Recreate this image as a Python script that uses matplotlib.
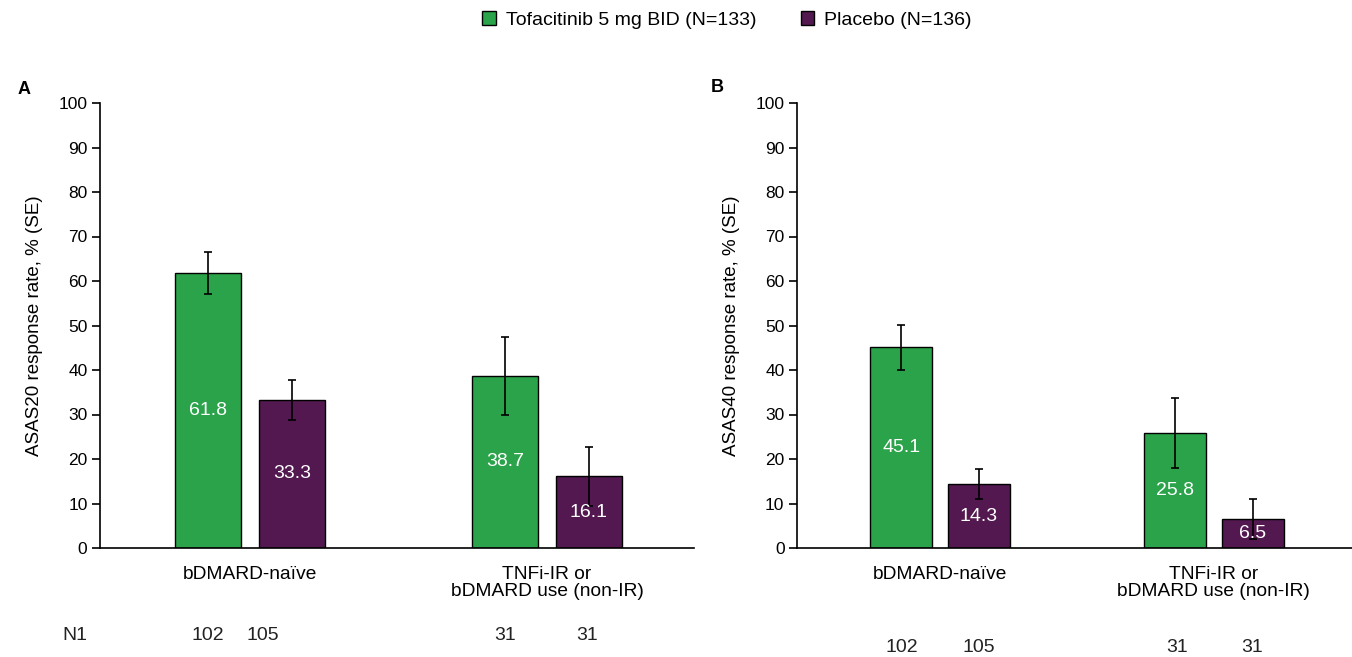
import numpy as np
import matplotlib.pyplot as plt

plt.rcParams['font.family'] = ['Liberation Sans', 'DejaVu Sans']

groups = ['bDMARD-naïve', 'TNFi-IR or\nbDMARD use (non-IR)']
series = ['Tofacitinib 5 mg BID (N=133)', 'Placebo (N=136)']

# ASAS20 (panel A) and ASAS40 (panel B) response rates, % and SE
asas20_tofa = [61.8, 38.7]
asas20_pbo = [33.3, 16.1]
asas20_tofa_se = [4.8, 8.8]
asas20_pbo_se = [4.5, 6.6]

asas40_tofa = [45.1, 25.8]
asas40_pbo = [14.3, 6.5]
asas40_tofa_se = [5.0, 7.9]
asas40_pbo_se = [3.4, 4.4]

n_labels = ['102', '105', '31', '31']

green = '#2ba34a'
purple = '#52184f'

W, H = 1352, 657
fig = plt.figure(figsize=(W / 100, H / 100), dpi=100)

def px(x0, x1, y0, y1):
    return [x0 / W, 1 - y1 / H, (x1 - x0) / W, (y1 - y0) / H]

axA = fig.add_axes(px(100, 694, 103, 548))
axB = fig.add_axes(px(797, 1352, 103, 548))

def draw(ax, tofa, pbo, tofa_se, pbo_se, ylabel, xlim, width, off):
    x = np.arange(len(groups))
    eb = dict(ecolor='black', elinewidth=1.2, capsize=3, capthick=1.2)
    b1 = ax.bar(x - off, tofa, width, color=green, edgecolor='black', linewidth=1,
                yerr=tofa_se, error_kw=eb, label=series[0])
    b2 = ax.bar(x + off, pbo, width, color=purple, edgecolor='black', linewidth=1,
                yerr=pbo_se, error_kw=eb, label=series[1])
    for bars in (b1, b2):
        for r in bars:
            h = r.get_height()
            ax.text(r.get_x() + r.get_width() / 2, h / 2, f'{h:.1f}', color='white',
                    ha='center', va='center', fontsize=14)
    ax.set_ylim(0, 100)
    ax.set_xlim(*xlim)
    ax.set_yticks(np.arange(0, 101, 10))
    ax.set_xticks(x)
    ax.set_xticklabels(groups, fontsize=13.8, linespacing=0.99)
    ax.tick_params(axis='x', length=0, pad=13)
    ax.tick_params(axis='y', length=6, width=1.2, labelsize=12.5, pad=3)
    for s in ('top', 'right'):
        ax.spines[s].set_visible(False)
    ax.spines['left'].set_linewidth(1.2)
    ax.spines['bottom'].set_linewidth(1.2)
    ax.set_ylabel(ylabel, fontsize=13.5, labelpad=11)
    return b1, b2

handles = draw(axA, asas20_tofa, asas20_pbo, asas20_tofa_se, asas20_pbo_se,
               'ASAS20 response rate, % (SE)', (-0.505, 1.495), 0.222, 0.141)
draw(axB, asas40_tofa, asas40_pbo, asas40_tofa_se, asas40_pbo_se,
     'ASAS40 response rate, % (SE)', (-0.522, 1.504), 0.226, 0.142)

fig.text(18 / W, 1 - 90 / H, 'A', fontsize=13, fontweight='bold', va='center')
fig.text(711 / W, 1 - 88 / H, 'B', fontsize=13, fontweight='bold', va='center')

# N row under each panel
fig.text(75 / W, 1 - 636 / H, 'N1', fontsize=14, ha='center', va='center', color='#222222')
for xp, t in zip([208, 263, 505, 587], n_labels):
    fig.text(xp / W, 1 - 636 / H, t, fontsize=14, ha='center', va='center', color='#222222')
for xp, t in zip([902, 979, 1177, 1252], n_labels):
    fig.text(xp / W, 1 - 647 / H, t, fontsize=14, ha='center', va='center', color='#222222')

fig.legend(handles, series, loc='center', bbox_to_anchor=(727 / W, 1 - 20 / H), ncol=2,
           frameon=False, fontsize=14, handlelength=0.7, handleheight=0.7,
           handletextpad=0.5, columnspacing=2.3)

fig.savefig('out.png', dpi=100)
